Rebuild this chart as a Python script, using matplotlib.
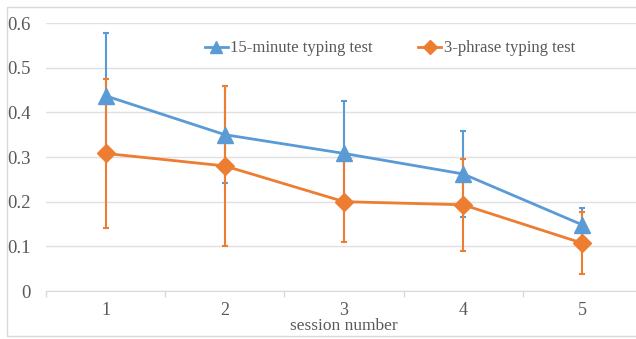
import matplotlib.pyplot as plt
from matplotlib.patches import Rectangle

sessions = [1, 2, 3, 4, 5]
test15 = [0.437, 0.350, 0.308, 0.262, 0.148]
test15_err = [0.140, 0.108, 0.118, 0.097, 0.037]
phrase3 = [0.308, 0.280, 0.200, 0.193, 0.107]
phrase3_err = [0.166, 0.180, 0.090, 0.103, 0.070]

blue = '#5B9BD5'
orange = '#ED7D31'
grey = '#595959'

plt.rcParams['font.family'] = ['Liberation Serif', 'DejaVu Serif']
plt.rcParams['font.size'] = 12.5

fig = plt.figure(figsize=(6.36, 3.39), dpi=100)
W, H = 636, 339
ax = fig.add_axes([46 / W, (H - 291) / H, (642 - 46) / W, (291 - 23) / H])

# chart border
fig.patches.append(Rectangle((7 / W, 3 / H), 1.0, (336 - 7) / H, transform=fig.transFigure,
                             fill=False, edgecolor='#D9D9D9', lw=1.0))

ax.errorbar(sessions, test15, yerr=test15_err, fmt='none', ecolor=blue, elinewidth=1.5,
            capsize=2, capthick=1.5, zorder=2)
ax.errorbar(sessions, phrase3, yerr=phrase3_err, fmt='none', ecolor=orange, elinewidth=1.5,
            capsize=2, capthick=1.5, zorder=3)
ax.plot(sessions, test15, color=blue, lw=2, marker='^', markersize=11, label='15-minute typing test', zorder=4)
ax.plot(sessions, phrase3, color=orange, lw=2, marker='D', markersize=9, label='3-phrase typing test', zorder=5)

ax.set_xlim(0.5, 5.5)
ax.set_ylim(0, 0.6)
ax.set_yticks([0, 0.1, 0.2, 0.3, 0.4, 0.5, 0.6])
ax.set_yticklabels(['0', '0.1', '0.2', '0.3', '0.4', '0.5', '0.6'])
ax.set_xticks(sessions)
ax.set_xticks([0.5, 1.5, 2.5, 3.5, 4.5, 5.5], minor=True)
ax.tick_params(axis='x', which='major', length=0, pad=8, colors=grey, labelsize=13)
ax.tick_params(axis='x', which='minor', length=4, color='#D9D9D9', width=1)
ax.tick_params(axis='y', length=0, pad=11, colors=grey, labelsize=13.5)
ax.grid(axis='y', color='#E0E0E0', lw=1)
for s in ['top', 'right', 'left']:
    ax.spines[s].set_visible(False)
ax.spines['bottom'].set_color('#D9D9D9')
ax.set_axisbelow(True)

ax.set_xlabel('session number', color=grey, fontsize=12.5, labelpad=-1)

ax.legend(loc='center', bbox_to_anchor=(0.577, 0.905), ncol=2, frameon=False,
          fontsize=12, handlelength=1.4, handletextpad=0.15, columnspacing=2.7,
          labelcolor=grey, markerscale=0.75)

fig.savefig('out.png', dpi=100)
